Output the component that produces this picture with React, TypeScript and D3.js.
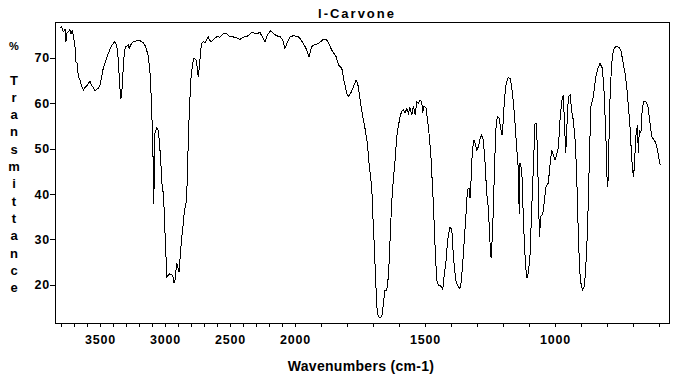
import React, { useRef, useEffect } from 'react';
import * as d3 from 'd3';

const TITLE = 'l-Carvone';
const X_LABEL = 'Wavenumbers (cm-1)';
const Y_LABEL = ['T', 'r', 'a', 'n', 's', 'm', 'i', 't', 't', 'a', 'n', 'c', 'e'];

// wavenumber (cm-1)
const wavenumbers = [
  3808, 3795, 3782, 3769, 3762, 3756, 3744, 3731, 3723, 3713, 3705, 3692, 3685, 3675, 3667, 3654,
  3641, 3628, 3615, 3602, 3590, 3577, 3564, 3552, 3538, 3525, 3513, 3500, 3487, 3475, 3454, 3436,
  3415, 3398, 3385, 3372, 3359, 3352, 3341, 3333, 3325, 3315, 3305, 3295, 3282, 3275, 3264, 3244,
  3218, 3192, 3167, 3148, 3128, 3115, 3105, 3098, 3092, 3090, 3085, 3077, 3064, 3052, 3044, 3033,
  3025, 3021, 3013, 3005, 3000, 2992, 2987, 2975, 2962, 2941, 2931, 2923, 2910, 2902, 2892, 2885,
  2872, 2859, 2852, 2838, 2828, 2821, 2813, 2802, 2787, 2777, 2762, 2752, 2744, 2736, 2725, 2718,
  2705, 2692, 2679, 2667, 2654, 2641, 2628, 2602, 2577, 2552, 2525, 2500, 2462, 2423, 2398, 2359,
  2333, 2295, 2269, 2244, 2231, 2213, 2187, 2167, 2141, 2115, 2095, 2077, 2059, 2038, 2013, 1987,
  1978, 1965, 1955, 1946, 1936, 1927, 1910, 1891, 1878, 1868, 1859, 1842, 1833, 1820, 1812, 1801,
  1795, 1786, 1778, 1773, 1765, 1759, 1753, 1743, 1731, 1722, 1714, 1705, 1701, 1695, 1690, 1685,
  1680, 1670, 1665, 1660, 1654, 1647, 1641, 1637, 1632, 1626, 1622, 1615, 1609, 1603, 1596, 1590,
  1583, 1577, 1570, 1564, 1558, 1551, 1545, 1538, 1532, 1526, 1519, 1513, 1509, 1504, 1496, 1487,
  1478, 1468, 1462, 1455, 1449, 1436, 1432, 1427, 1419, 1413, 1404, 1397, 1391, 1382, 1376, 1368,
  1363, 1357, 1350, 1343, 1337, 1331, 1327, 1323, 1318, 1312, 1308, 1301, 1295, 1288, 1282, 1276,
  1269, 1263, 1257, 1250, 1246, 1240, 1235, 1231, 1227, 1222, 1215, 1209, 1204, 1199, 1195, 1188,
  1180, 1173, 1167, 1160, 1154, 1147, 1141, 1138, 1135, 1128, 1124, 1119, 1114, 1109, 1103, 1096,
  1090, 1083, 1077, 1073, 1068, 1064, 1060, 1055, 1047, 1042, 1035, 1026, 1019, 1013, 1007, 1000,
  994, 987, 981, 974, 968, 964, 959, 954, 949, 942, 936, 930, 923, 917, 913, 908,
  903, 895, 887, 882, 877, 872, 867, 862, 853, 843, 836, 827, 818, 812, 805, 800,
  797, 793, 788, 782, 776, 767, 754, 746, 737, 731, 724, 718, 712, 705, 699, 695,
  690, 683, 680, 676, 670, 667, 660, 651, 643, 635, 628, 615, 609, 603, 596,
];

// % transmittance at each wavenumber
const transmittance = [
  76.6, 76.9, 75.8, 76.3, 73.6, 75.4, 75.8, 76.3, 75.4, 76.0, 75.1, 72.5, 69.2, 68.8, 65.9, 65.1,
  63.8, 62.9, 63.5, 63.8, 64.4, 64.9, 64.0, 63.5, 62.8, 63.1, 63.3, 64.0, 65.9, 67.7, 69.6, 71.0,
  72.5, 73.2, 73.6, 72.9, 69.6, 65.9, 60.9, 61.8, 65.9, 70.3, 72.5, 72.6, 72.9, 72.1, 72.9, 73.6,
  73.8, 73.8, 73.4, 72.5, 70.3, 66.6, 60.7, 54.8, 48.2, 37.9, 40.2, 53.5, 54.6, 54.1, 51.9, 47.5,
  43.1, 41.5, 40.2, 35.8, 31.4, 26.1, 21.7, 22.1, 22.4, 22.1, 20.4, 21.0, 24.8, 23.9, 22.8, 25.4,
  30.3, 33.6, 36.0, 38.0, 43.1, 51.9, 57.9, 65.1, 68.9, 70.0, 69.6, 68.0, 65.8, 68.0, 71.8, 73.3,
  73.6, 73.4, 74.1, 74.6, 73.8, 73.6, 74.1, 74.7, 74.6, 75.4, 75.3, 74.7, 74.6, 74.1, 74.6, 74.9,
  75.6, 75.4, 75.6, 74.3, 73.6, 75.1, 76.0, 75.4, 74.9, 74.7, 74.0, 72.1, 73.4, 74.7, 74.9, 74.7,
  74.1, 72.9, 71.8, 70.3, 72.5, 72.9, 73.2, 74.1, 74.0, 72.9, 71.8, 70.3, 68.5, 67.7, 65.1, 62.2,
  61.5, 62.2, 63.3, 64.0, 65.1, 64.4, 62.2, 58.2, 54.5, 51.2, 46.0, 41.6, 35.8, 28.4, 21.0, 15.1,
  12.9, 12.7, 13.3, 15.9, 18.8, 18.8, 21.8, 26.2, 33.5, 40.2, 43.1, 47.5, 52.6, 54.8, 57.1, 58.2,
  58.5, 57.8, 58.9, 57.8, 59.1, 57.4, 59.4, 57.4, 60.4, 60.0, 60.7, 60.4, 57.9, 59.4, 58.9, 54.8,
  49.0, 37.9, 29.1, 21.0, 19.9, 19.6, 18.8, 21.8, 25.4, 29.9, 32.8, 32.1, 26.2, 21.0, 19.9, 19.2,
  19.6, 23.2, 29.1, 35.0, 40.9, 41.3, 39.1, 43.1, 49.7, 51.9, 51.2, 49.7, 50.4, 52.3, 53.0, 51.9,
  46.8, 40.2, 37.2, 29.1, 25.8, 32.1, 41.6, 49.0, 54.8, 57.1, 56.7, 54.5, 53.0, 56.3, 60.7, 64.4,
  65.7, 65.5, 63.7, 60.0, 55.6, 49.7, 45.3, 35.7, 46.8, 45.3, 37.9, 30.6, 24.7, 21.4, 22.5, 26.9,
  36.5, 46.8, 55.6, 55.6, 50.4, 39.4, 30.6, 35.0, 35.7, 38.0, 41.6, 42.4, 46.8, 49.7, 48.6, 47.5,
  48.6, 50.4, 56.3, 60.7, 61.8, 55.6, 49.0, 55.6, 61.5, 61.8, 58.2, 56.3, 51.9, 44.6, 35.7, 26.9,
  21.0, 18.8, 19.6, 24.0, 29.9, 38.7, 50.4, 59.3, 61.5, 65.9, 67.7, 68.8, 67.7, 62.9, 53.4, 43.1,
  41.6, 51.2, 62.9, 68.8, 71.8, 72.5, 72.4, 71.4, 68.5, 66.6, 63.3, 59.3, 54.8, 47.5, 43.8, 46.0,
  52.6, 55.2, 49.0, 54.1, 53.4, 57.4, 60.4, 60.4, 59.3, 55.6, 52.6, 51.5, 50.4, 48.6, 46.4,
];

const xTickLabels = [3500, 3000, 2500, 2000, 1500, 1000];
const yTickLabels = [20, 30, 40, 50, 60, 70];

const FONT = '"Liberation Sans", Arial, sans-serif';

const IrSpectrum = () => {
  const ref = useRef<SVGSVGElement>(null);

  useEffect(() => {
    const W = 683;
    const H = 374;
    const left = 55, right = 669, top = 22, bottom = 323;

    const svg = d3.select(ref.current)
      .attr('width', W)
      .attr('height', H);
    svg.selectAll('*').remove();

    // instrument style axis: 4000-2000 compressed to half scale
    const x = d3.scaleLinear()
      .domain([3846, 2000, 562])
      .range([left, 295, right]);

    const y = d3.scaleLinear()
      .domain([11.55, 77.94])
      .range([bottom, top]);

    const g = svg.append('g').attr('shape-rendering', 'crispEdges');

    // frame
    g.append('rect')
      .attr('x', left + 0.5)
      .attr('y', top + 0.5)
      .attr('width', right - left)
      .attr('height', bottom - top)
      .attr('fill', 'none')
      .attr('stroke', '#000');

    // x minor ticks every 100
    const xTicks = d3.range(600, 3900, 100);
    g.selectAll('line.xt')
      .data(xTicks)
      .enter().append('line')
      .attr('class', 'xt')
      .attr('x1', d => Math.round(x(d)) + 0.5)
      .attr('x2', d => Math.round(x(d)) + 0.5)
      .attr('y1', bottom)
      .attr('y2', bottom + 4)
      .attr('stroke', '#000');

    g.selectAll('text.xl')
      .data(xTickLabels)
      .enter().append('text')
      .attr('class', 'xl')
      .attr('x', d => x(d) + 0.5)
      .attr('y', 344)
      .attr('text-anchor', 'middle')
      .attr('font-family', FONT)
      .attr('font-weight', 'bold')
      .attr('font-size', 12.5)
      .attr('letter-spacing', 0.8)
      .text(d => d);

    g.selectAll('line.yt')
      .data(yTickLabels)
      .enter().append('line')
      .attr('class', 'yt')
      .attr('x1', left - 5)
      .attr('x2', left)
      .attr('y1', d => Math.round(y(d)) + 0.5)
      .attr('y2', d => Math.round(y(d)) + 0.5)
      .attr('stroke', '#000');

    g.selectAll('text.yl')
      .data(yTickLabels)
      .enter().append('text')
      .attr('class', 'yl')
      .attr('x', 50)
      .attr('y', d => y(d) + 4.5)
      .attr('text-anchor', 'end')
      .attr('font-family', FONT)
      .attr('font-weight', 'bold')
      .attr('font-size', 12.5)
      .attr('letter-spacing', 0.8)
      .text(d => d);

    // spectrum
    const pts = wavenumbers.map((w, i) => [w, transmittance[i]] as [number, number]);
    svg.append('path')
      .datum(pts)
      .attr('fill', 'none')
      .attr('stroke', '#000')
      .attr('stroke-width', 1)
      .attr('shape-rendering', 'crispEdges')
      .attr('d', d3.line<[number, number]>().x(d => x(d[0])).y(d => y(d[1])));

    // titles
    svg.append('text')
      .attr('x', 357)
      .attr('y', 18)
      .attr('text-anchor', 'middle')
      .attr('font-family', FONT)
      .attr('font-weight', 'bold')
      .attr('font-size', 13)
      .attr('letter-spacing', 2)
      .text(TITLE);

    svg.append('text')
      .attr('x', 361)
      .attr('y', 371)
      .attr('text-anchor', 'middle')
      .attr('font-family', FONT)
      .attr('font-weight', 'bold')
      .attr('font-size', 14)
      .attr('letter-spacing', 0.3)
      .text(X_LABEL);

    svg.append('text')
      .attr('x', 14)
      .attr('y', 50)
      .attr('text-anchor', 'middle')
      .attr('font-family', FONT)
      .attr('font-weight', 'bold')
      .attr('font-size', 11)
      .text('%');

    svg.selectAll('text.ylab')
      .data(Y_LABEL)
      .enter().append('text')
      .attr('class', 'ylab')
      .attr('x', 14)
      .attr('y', (d, i) => 84.5 + i * 17.33)
      .attr('text-anchor', 'middle')
      .attr('font-family', FONT)
      .attr('font-weight', 'bold')
      .attr('font-size', 13)
      .text(d => d);
  }, []);

  return <svg ref={ref} style={{ position: 'absolute', left: 0, top: 0, background: '#fff' }}></svg>;
};

export default function App() {
  return <IrSpectrum />;
}
